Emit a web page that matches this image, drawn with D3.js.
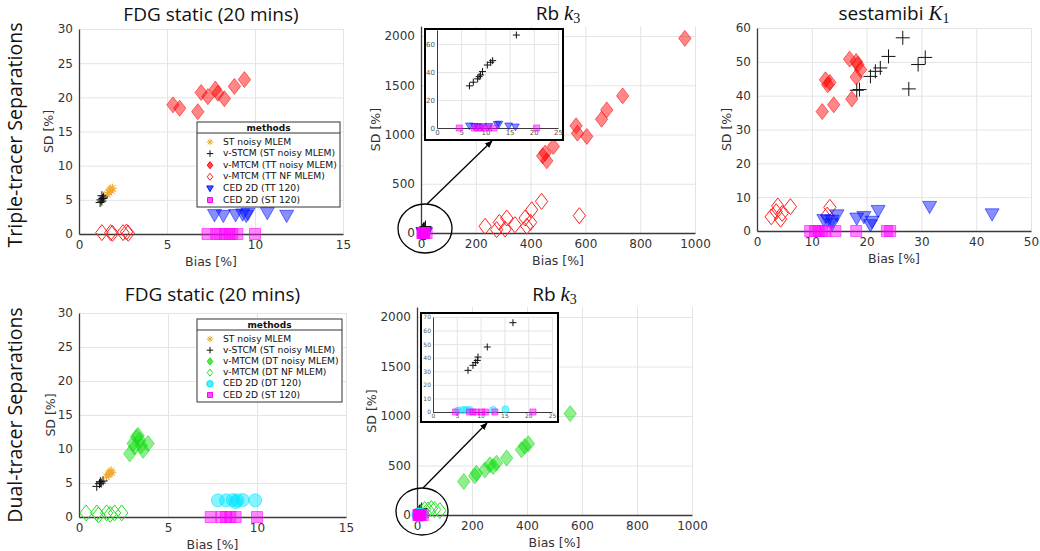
<!DOCTYPE html>
<html>
<head>
<meta charset="utf-8">
<script src="https://cdn.jsdelivr.net/npm/d3@7"></script>
<style>
body { margin: 0; background: #fff; }
</style>
</head>
<body>
<div id="fig"></div>
<script>
// ---- data: [bias %, SD %] pairs ----
// FDG static, triple-tracer
const fdgTT_stMLEM = [[1.6, 5.8], [1.7, 6.1], [1.75, 6.4], [1.8, 6.6], [1.85, 6.3], [1.9, 6.7]];
const fdgTT_vSTCM = [[1.2, 4.6], [1.25, 5.0], [1.3, 4.8], [1.35, 5.2], [1.4, 5.4], [1.3, 5.6]];
const fdgTT_noisy = [[5.34, 18.9], [5.72, 18.4], [6.75, 17.9], [6.94, 20.7], [7.32, 20.1], [7.75, 21.2],
                     [7.89, 20.6], [8.26, 19.8], [8.83, 21.6], [9.4, 22.6]];
const fdgTT_nf = [[1.3, 0.2], [1.8, 0.2], [1.9, 0.1], [2.5, 0.2], [2.7, 0.3], [2.8, 0.1]];
const fdgTT_ced = [[7.7, 2.8], [8.2, 2.7], [8.9, 2.8], [9.3, 2.9], [9.5, 2.7], [9.6, 3.0], [10.7, 3.1], [11.8, 2.7]];
const fdgTT_st120 = [[7.3, 0], [7.8, 0], [8.0, 0], [8.3, 0], [8.55, 0], [8.7, 0], [9.0, 0], [10.0, 0]];

// Rb k3, triple-tracer
const rbTT_vSTCM = [[6.7, 30.1], [7.5, 32.7], [8.4, 35.1], [8.7, 36.7], [9.0, 37.9], [9.4, 40.3],
                    [10.4, 45], [11.1, 46.9], [11.5, 48.1], [16.4, 66.4]];
const rbTT_noisy = [[963, 1976], [736, 1392], [678, 1250], [659, 1155], [566, 1088], [571, 1013],
                    [605, 980], [483, 878], [453, 811], [459, 733], [444, 784]];
const rbTT_nf = [[234, 68], [286, 108], [313, 152], [307, 40], [343, 84], [380, 152], [400, 108],
                 [404, 236], [440, 321], [578, 176], [276, 34], [386, 68]];
const rbTT_ced = [[6.7, 1.5], [7.7, 1.2], [8.4, 1.0], [9.4, 1.0], [10.7, 1.2], [12.4, 2.5], [12.8, 2.8],
                  [14.8, 1.5], [16.2, 0.8]];
const rbTT_st120 = [[4.6, 0], [7.7, 0], [8.4, 0], [9.0, 0], [9.7, 0], [10.7, 0], [11.75, 0], [20.6, 0]];

// sestamibi K1, triple-tracer
const mibiTT_vSTCM = [[18.2, 41.6], [18.7, 41.8], [20.7, 45.7], [21.6, 47.2], [22.5, 48.2], [24.0, 51.6],
                      [26.6, 57.1], [27.7, 42], [29.4, 49.2], [30.7, 51.3]];
const mibiTT_noisy = [[11.9, 35.3], [12.5, 44.7], [13.3, 43.9], [12.9, 43.2], [14.0, 37.3], [16.9, 50.8],
                      [18.1, 50.1], [18.4, 49.2], [18.9, 47.7], [18.1, 45.5], [17.3, 39]];
const mibiTT_nf = [[2.6, 4.2], [3.5, 5.7], [4.3, 3.5], [4.6, 5.2], [3.8, 7.4], [6.1, 7.2], [13.3, 7], [12.8, 4.7]];
const mibiTT_ced = [[12.2, 3.3], [12.9, 3.1], [13.7, 3.1], [14.6, 4.7], [13.7, 2.1], [18.2, 3.75], [19.5, 4.2],
                    [21.0, 2.8], [20.7, 1.8], [22.1, 6], [31.5, 7.2], [42.9, 5]];
const mibiTT_st120 = [[9.7, 0], [10.6, 0], [11.25, 0], [11.9, 0], [12.5, 0], [14.3, 0], [18.1, 0], [23.7, 0], [24.3, 0]];

// FDG static, dual-tracer
const fdgDT_stMLEM = [[1.55, 5.9], [1.65, 6.2], [1.7, 6.4], [1.75, 6.6], [1.8, 6.8], [1.85, 6.5]];
const fdgDT_vSTCM = [[1.0, 4.5], [1.15, 4.9], [1.2, 5.2], [1.25, 5.0], [1.35, 5.3]];
const fdgDT_noisy = [[2.85, 9.3], [3.04, 10.8], [3.13, 10.3], [3.23, 11.8], [3.32, 12.0], [3.41, 11.3],
                     [3.5, 10.5], [3.6, 9.8], [3.88, 10.8]];
const fdgDT_nf = [[0.4, 0.6], [1.0, 0.6], [1.1, 0.3], [1.55, 0.6], [1.75, 0.4], [2.0, 0.6], [2.4, 0.6]];
const fdgDT_ced = [[7.8, 2.45], [8.26, 2.45], [8.64, 2.5], [8.8, 2.2], [8.9, 2.45], [9.2, 2.5], [9.9, 2.45]];
const fdgDT_st120 = [[7.4, 0], [8.0, 0], [8.26, 0], [8.5, 0], [8.8, 0], [10.0, 0]];

// Rb k3, dual-tracer
const rbDT_vSTCM = [[7.35, 30.7], [8.4, 34.4], [8.9, 36.4], [9.3, 38], [9.45, 40.5], [11.4, 47.9], [16.8, 65.8]];
const rbDT_noisy = [[170, 338], [210, 395], [216, 422], [247, 456], [265, 507], [277, 490], [289, 524],
                    [326, 575], [380, 659], [392, 693], [405, 720], [557, 1024]];
const rbDT_nf = [[28, 55], [40, 50], [52, 65], [64, 55], [83, 45]];
const rbDT_ced = [[5.25, 1], [6.3, 1.5], [7.0, 1.5], [7.7, 1.5], [12.6, 1.5], [15.2, 2]];
const rbDT_st120 = [[4.7, 0], [7.7, 0], [8.4, 0], [9.1, 0], [10.2, 0], [11.0, 0], [13.0, 0], [21.0, 0]];

// ticks and legend labels
const fdgXTicks = [0, 5, 10, 15];
const fdgYTicks = [0, 5, 10, 15, 20, 25, 30];
const rbXTicks = [0, 200, 400, 600, 800, 1000];
const rbYTicks = [0, 500, 1000, 1500, 2000];
const mibiXTicks = [0, 10, 20, 30, 40, 50];
const mibiYTicks = [0, 10, 20, 30, 40, 50, 60];
const insetXTicks = [0, 5, 10, 15, 20, 25];
const insetTTYTicks = [0, 20, 40, 60];
const insetDTYTicks = [0, 10, 20, 30, 40, 50, 60, 70];
const legendTT = ["ST noisy MLEM", "v-STCM (ST noisy MLEM)", "v-MTCM (TT noisy MLEM)",
                  "v-MTCM (TT NF MLEM)", "CED 2D (TT 120)", "CED 2D (ST 120)"];
const legendDT = ["ST noisy MLEM", "v-STCM (ST noisy MLEM)", "v-MTCM (DT noisy MLEM)",
                  "v-MTCM (DT NF MLEM)", "CED 2D (DT 120)", "CED 2D (ST 120)"];

// ---- styles ----
const sty = {
    stMLEM: {shape: "star", color: "#f0a830"},
    vSTCM: {shape: "plus", color: "#111"},
    ttNoisy: {shape: "diamond", color: "#ff0000", filled: true},
    ttNF: {shape: "diamond", color: "#ff2020"},
    ttCED: {shape: "triangle", color: "#0010ff", filled: true},
    st120: {shape: "square", color: "#ff00ff", filled: true},
    dtNoisy: {shape: "diamond", color: "#10dd10", filled: true},
    dtNF: {shape: "diamond", color: "#22e022"},
    dtCED: {shape: "circle", color: "#00e5ff", filled: true}
};
const baseSize = {diamond: 14.5, triangle: 14, square: 11, circle: 13, plus: 9, star: 9};

var svg = d3.select("#fig").append("svg")
    .attr("width", 1040)
    .attr("height", 551);

function markerPath(shape, s) {
    let h = s / 2;
    switch (shape) {
        case "diamond": return `M0,${-h * 1.1}L${h * 0.85},0L0,${h * 1.1}L${-h * 0.85},0Z`;
        case "triangle": return `M${-h},${-h * 0.75}L${h},${-h * 0.75}L0,${h}Z`;
        case "square": return `M${-h},${-h}H${h}V${h}H${-h}Z`;
        case "circle": return d3.symbol(d3.symbolCircle, Math.PI * h * h)();
        case "plus": return `M${-h},0H${h}M0,${-h}V${h}`;
        case "star": {
            let d = h * 0.7;
            return `M${-h},0H${h}M0,${-h}V${h}M${-d},${-d}L${d},${d}M${-d},${d}L${d},${-d}`;
        }
    }
}

function drawMarkers(g, data, style, x, y, size) {
    g.append("g").selectAll("path")
        .data(data)
        .join("path")
        .attr("transform", d => `translate(${x(d[0])},${y(d[1])})`)
        .attr("d", markerPath(style.shape, size))
        .attr("fill", style.filled ? style.color : "none")
        .attr("fill-opacity", 0.47)
        .attr("stroke", style.color)
        .attr("stroke-opacity", style.filled ? 0.55 : 1)
        .attr("stroke-width", 1);
}

function drawPanel(p) {
    let x = d3.scaleLinear().domain(p.xDomain).range(p.xRange);
    let y = d3.scaleLinear().domain(p.yDomain).range(p.yRange);
    let g = svg.append("g");
    let h = p.yRange[0] - p.yRange[1];
    let w = p.xRange[1] - p.xRange[0];
    let fs = p.fontSize || 12;
    let fmt = d3.format("d");

    if (p.box) {
        g.append("rect")
            .attr("x", p.box[0]).attr("y", p.box[1])
            .attr("width", p.box[2] - p.box[0]).attr("height", p.box[3] - p.box[1])
            .attr("fill", "#fff").attr("stroke", "#000").attr("stroke-width", 2);
    }

    // grid
    g.append("g").attr("class", "grid")
        .attr("transform", `translate(0,${p.yRange[0]})`)
        .call(d3.axisBottom(x).tickValues(p.xTicks).tickSize(-h).tickFormat(""));
    g.append("g").attr("class", "grid")
        .attr("transform", `translate(${p.xRange[0]},0)`)
        .call(d3.axisLeft(y).tickValues(p.yTicks).tickSize(-w).tickFormat(""));
    g.selectAll(".grid .domain").remove();
    g.selectAll(".grid line").attr("stroke", "#e4e4e4");

    // axes
    let ax = g.append("g")
        .attr("transform", `translate(0,${p.yRange[0]})`)
        .call(d3.axisBottom(x).tickValues(p.xTicks).tickFormat(fmt)
            .tickSizeInner(-p.tick).tickSizeOuter(0).tickPadding(p.pad));
    let ay = g.append("g")
        .attr("transform", `translate(${p.xRange[0]},0)`)
        .call(d3.axisLeft(y).tickValues(p.yTicks).tickFormat(fmt)
            .tickSizeInner(-p.tick).tickSizeOuter(0).tickPadding(p.pad));
    [ax, ay].forEach(a => {
        a.select(".domain").attr("stroke", "#3a3a3a").attr("stroke-width", p.axisW);
        a.selectAll(".tick line").attr("stroke", "#3a3a3a");
        a.selectAll(".tick text")
            .attr("font-family", "DejaVu Sans, sans-serif")
            .attr("font-size", fs)
            .attr("fill", p.tickColor || "#333");
    });

    if (p.xLabel) {
        g.append("text")
            .attr("x", (p.xRange[0] + p.xRange[1]) / 2)
            .attr("y", p.yRange[0] + 28)
            .attr("text-anchor", "middle")
            .attr("dominant-baseline", "middle")
            .attr("font-family", "DejaVu Sans, sans-serif")
            .attr("font-size", 12.5)
            .attr("fill", "#333")
            .text("Bias [%]");
        g.append("text")
            .attr("transform", `translate(${p.xRange[0] - p.yLabelOff},${(p.yRange[0] + p.yRange[1]) / 2}) rotate(-90)`)
            .attr("text-anchor", "middle")
            .attr("dominant-baseline", "middle")
            .attr("font-family", "DejaVu Sans, sans-serif")
            .attr("font-size", 12.5)
            .attr("fill", "#333")
            .text("SD [%]");
    }

    if (p.title) {
        let t = g.append("text")
            .attr("x", (p.xRange[0] + p.xRange[1]) / 2)
            .attr("y", p.titleY)
            .attr("text-anchor", "middle")
            .attr("dominant-baseline", "middle")
            .attr("font-family", "Open Sans, sans-serif")
            .attr("font-size", 19)
            .attr("fill", "#111");
        t.append("tspan").text(p.title[0]);
        if (p.title.length > 1) {
            t.append("tspan")
                .attr("font-family", "Liberation Serif, serif")
                .attr("font-style", "italic")
                .attr("font-size", 21)
                .text(p.title[1]);
            t.append("tspan")
                .attr("font-family", "Liberation Serif, serif")
                .attr("font-size", 14)
                .attr("dy", "0.35em")
                .text(p.title[2]);
        }
    }

    p.series.forEach(s => {
        let st = s[1];
        let size = (st.shape === "plus" && p.plusSize) ? p.plusSize : baseSize[st.shape] * p.scale;
        drawMarkers(g, s[0], st, x, y, size);
    });

    if (p.legend) drawLegend(g, p.legend, p.legendLabels, p.series.map(s => s[1]));
}

function drawLegend(g, box, labels, styles) {
    let lg = g.append("g");
    lg.append("rect")
        .attr("x", box[0]).attr("y", box[1])
        .attr("width", box[2] - box[0]).attr("height", box[3] - box[1])
        .attr("fill", "#fff").attr("stroke", "#333").attr("stroke-width", 1);
    lg.append("line")
        .attr("x1", box[0]).attr("x2", box[2])
        .attr("y1", box[1] + 11).attr("y2", box[1] + 11)
        .attr("stroke", "#333");
    lg.append("text")
        .attr("x", (box[0] + box[2]) / 2).attr("y", box[1] + 6)
        .attr("text-anchor", "middle").attr("dominant-baseline", "middle")
        .attr("font-family", "DejaVu Sans, sans-serif").attr("font-weight", "bold")
        .attr("font-size", 9).attr("fill", "#111")
        .text("methods");
    let rowY = d3.scaleLinear().domain([0, labels.length - 1]).range([box[1] + 20, box[3] - 7]);
    let rows = lg.selectAll("g.row")
        .data(labels)
        .join("g")
        .attr("class", "row")
        .attr("transform", (d, i) => `translate(${box[0] + 13},${rowY(i)})`);
    rows.append("path")
        .attr("d", (d, i) => markerPath(styles[i].shape, styles[i].shape === "square" ? 5 : 6.5))
        .attr("fill", (d, i) => styles[i].filled ? styles[i].color : "none")
        .attr("fill-opacity", 0.7)
        .attr("stroke", (d, i) => styles[i].color)
        .attr("stroke-width", 1);
    rows.append("text")
        .attr("x", 13)
        .attr("dominant-baseline", "middle")
        .attr("font-family", "DejaVu Sans, sans-serif")
        .attr("font-size", 9.2)
        .attr("fill", "#111")
        .text(d => d);
}

function drawCallout(c) {
    svg.append("ellipse")
        .attr("cx", c.cx).attr("cy", c.cy).attr("rx", c.rx).attr("ry", c.ry)
        .attr("fill", "none").attr("stroke", "#000").attr("stroke-width", 1.3);
    svg.append("line")
        .attr("x1", c.from[0]).attr("y1", c.from[1])
        .attr("x2", c.to[0]).attr("y2", c.to[1])
        .attr("stroke", "#000").attr("stroke-width", 1.3)
        .attr("marker-end", "url(#arrow)");
}

svg.append("defs").append("marker")
    .attr("id", "arrow")
    .attr("viewBox", "0 0 10 10")
    .attr("refX", 9).attr("refY", 5)
    .attr("markerWidth", 6).attr("markerHeight", 6)
    .attr("orient", "auto")
    .append("path").attr("d", "M0,1L10,5L0,9Z").attr("fill", "#000");

let mainCommon = {tick: 0, pad: 6, axisW: 1.3, xLabel: true, scale: 1};

// ---- top row: triple tracer ----
drawPanel(Object.assign({}, mainCommon, {
    xDomain: [0, 15], xRange: [79, 343], yDomain: [0, 30], yRange: [234, 29],
    xTicks: fdgXTicks, yTicks: fdgYTicks, yLabelOff: 30,
    title: ["FDG static (20 mins)"], titleY: 16,
    series: [[fdgTT_stMLEM, sty.stMLEM], [fdgTT_vSTCM, sty.vSTCM], [fdgTT_noisy, sty.ttNoisy],
             [fdgTT_nf, sty.ttNF], [fdgTT_ced, sty.ttCED], [fdgTT_st120, sty.st120]],
    legend: [197, 122, 340, 207], legendLabels: legendTT
}));

drawPanel(Object.assign({}, mainCommon, {
    xDomain: [0, 1000], xRange: [421, 695], yDomain: [0, 2100], yRange: [233, 233 - 2100 * 197 / 2000],
    xTicks: rbXTicks, yTicks: rbYTicks, yLabelOff: 45, plusSize: 12,
    title: ["Rb ", "k", "3"], titleY: 15,
    series: [[rbTT_vSTCM, sty.vSTCM], [rbTT_noisy, sty.ttNoisy], [rbTT_nf, sty.ttNF],
             [rbTT_ced, sty.ttCED], [rbTT_st120, sty.st120]]
}));

drawPanel(Object.assign({}, mainCommon, {
    xDomain: [0, 50], xRange: [757, 1031], yDomain: [0, 60], yRange: [231, 28],
    xTicks: mibiXTicks, yTicks: mibiYTicks, yLabelOff: 30, plusSize: 14,
    title: ["sestamibi ", "K", "1"], titleY: 15,
    series: [[mibiTT_vSTCM, sty.vSTCM], [mibiTT_noisy, sty.ttNoisy], [mibiTT_nf, sty.ttNF],
             [mibiTT_ced, sty.ttCED], [mibiTT_st120, sty.st120]]
}));

// ---- bottom row: dual tracer ----
drawPanel(Object.assign({}, mainCommon, {
    xDomain: [0, 15], xRange: [79, 346], yDomain: [0, 30], yRange: [517, 313],
    xTicks: fdgXTicks, yTicks: fdgYTicks, yLabelOff: 28,
    title: ["FDG static (20 mins)"], titleY: 296,
    series: [[fdgDT_stMLEM, sty.stMLEM], [fdgDT_vSTCM, sty.vSTCM], [fdgDT_noisy, sty.dtNoisy],
             [fdgDT_nf, sty.dtNF], [fdgDT_ced, sty.dtCED], [fdgDT_st120, sty.st120]],
    legend: [197, 319, 342, 402], legendLabels: legendDT
}));

drawPanel(Object.assign({}, mainCommon, {
    xDomain: [0, 1000], xRange: [417, 692], yDomain: [0, 2100], yRange: [515, 515 - 2100 * 198 / 2000],
    xTicks: rbXTicks, yTicks: rbYTicks, yLabelOff: 45, plusSize: 12,
    title: ["Rb ", "k", "3"], titleY: 296,
    series: [[rbDT_vSTCM, sty.vSTCM], [rbDT_noisy, sty.dtNoisy], [rbDT_nf, sty.dtNF],
             [rbDT_ced, sty.dtCED], [rbDT_st120, sty.st120]]
}));

// ---- zoom insets for Rb ----
let insetCommon = {tick: 0, pad: 2, axisW: 1, scale: 0.55, plusSize: 7, tickColor: "#555"};

drawPanel(Object.assign({}, insetCommon, {
    box: [425, 29, 563, 140], fontSize: 7,
    xDomain: [0, 25], xRange: [437, 558], yDomain: [0, 70], yRange: [128, 30],
    xTicks: insetXTicks, yTicks: insetTTYTicks,
    series: [[rbTT_vSTCM, sty.vSTCM], [rbTT_ced, sty.ttCED], [rbTT_st120, sty.st120]]
}));

drawPanel(Object.assign({}, insetCommon, {
    box: [421, 313, 558, 422], fontSize: 6,
    xDomain: [0, 25], xRange: [433, 552], yDomain: [0, 70], yRange: [412, 317],
    xTicks: insetXTicks, yTicks: insetDTYTicks,
    series: [[rbDT_vSTCM, sty.vSTCM], [rbDT_ced, sty.dtCED], [rbDT_st120, sty.st120]]
}));

drawCallout({cx: 425, cy: 228.5, rx: 27, ry: 24.5, from: [427, 204], to: [492, 141]});
drawCallout({cx: 422, cy: 511.5, rx: 26, ry: 23.5, from: [423, 488], to: [487, 423]});

// ---- row labels ----
[["Triple-tracer Separations", 135], ["Dual-tracer Separations", 415]].forEach(r => {
    svg.append("text")
        .attr("transform", `translate(17,${r[1]}) rotate(-90)`)
        .attr("text-anchor", "middle")
        .attr("dominant-baseline", "middle")
        .attr("font-family", "Open Sans, sans-serif")
        .attr("font-size", 19.5)
        .attr("fill", "#111")
        .text(r[0]);
});
</script>
</body>
</html>
